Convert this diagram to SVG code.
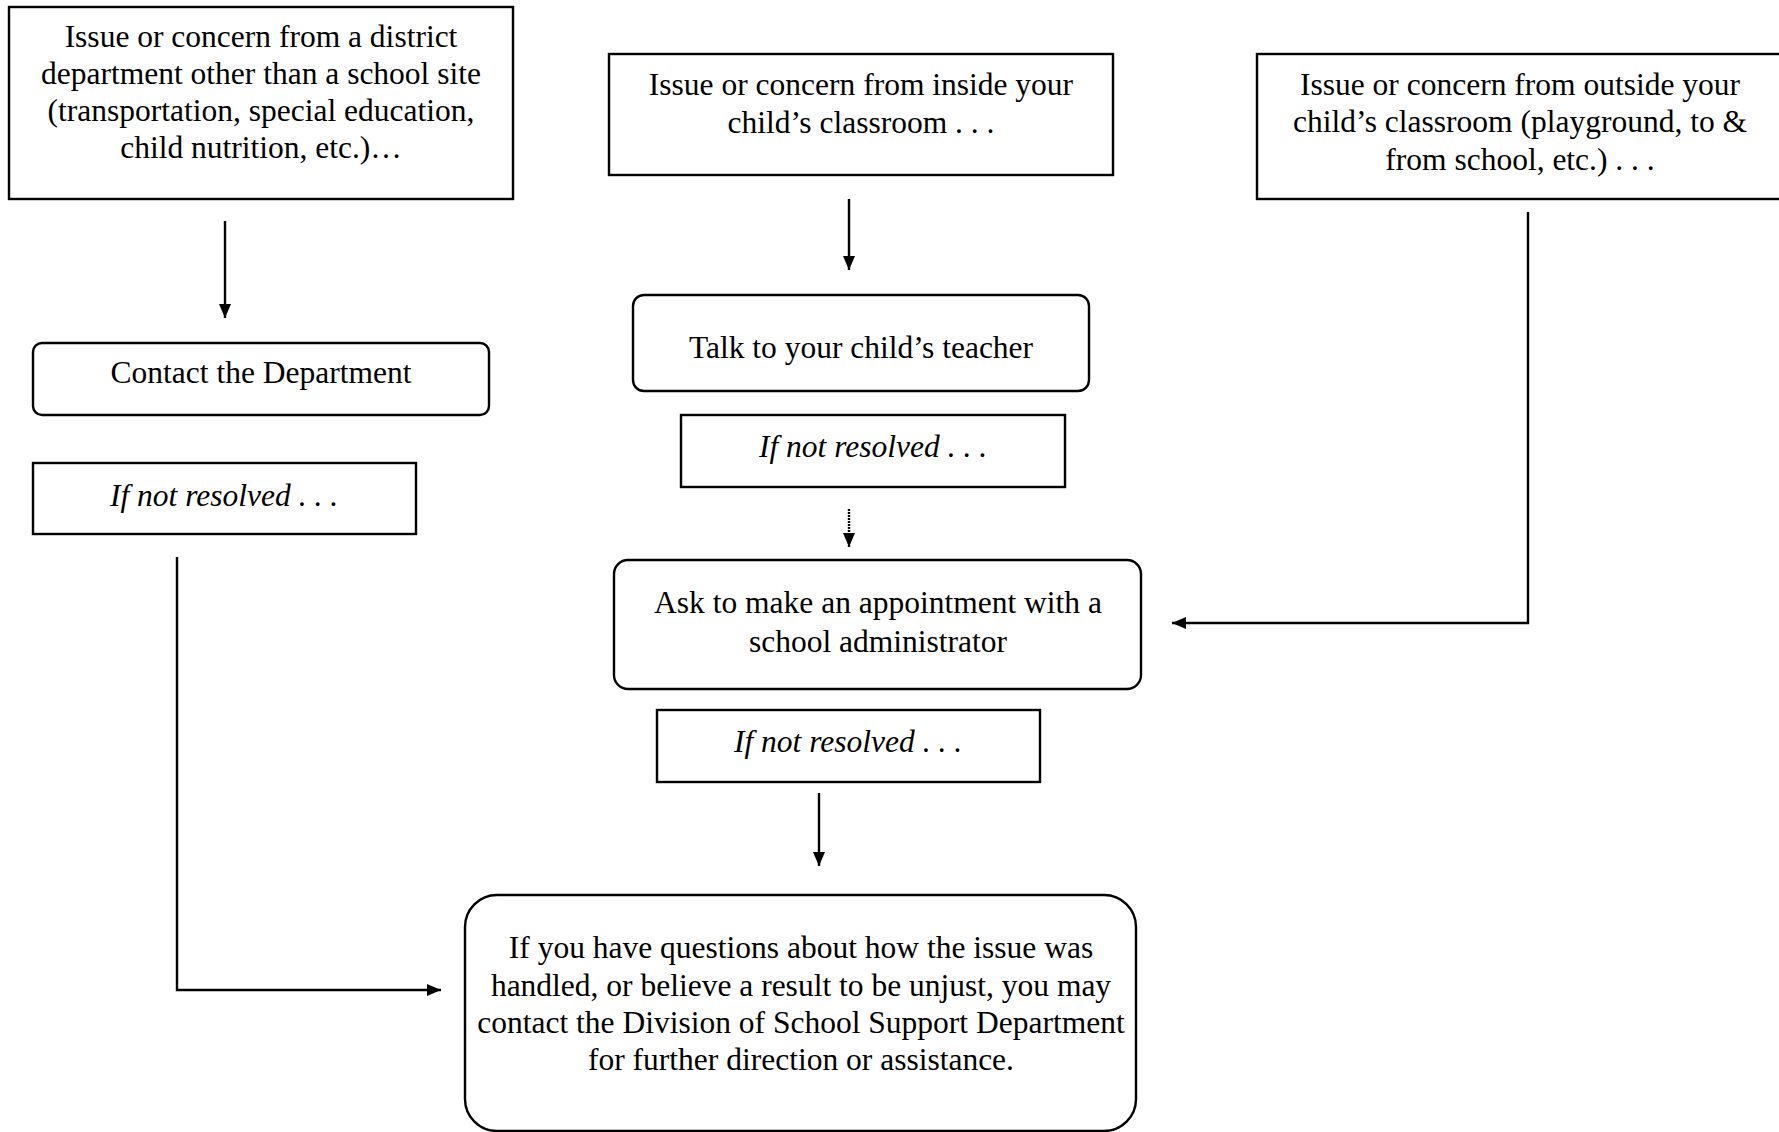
<svg xmlns="http://www.w3.org/2000/svg" width="1779" height="1132" viewBox="0 0 1779 1132">
<style>
.box{fill:#fff;stroke:#000;stroke-width:2.4}
.t{font-family:"Liberation Serif","Times New Roman",serif;font-size:31.5px;fill:#000;text-anchor:middle}
.i{font-style:italic}
.c{fill:none;stroke:#000;stroke-width:2.4}
</style>
<defs>
<marker id="ah" viewBox="0 0 14 12" refX="14" refY="6" markerWidth="14" markerHeight="12" markerUnits="userSpaceOnUse" orient="auto">
<path d="M0,0 L14,6 L0,12 z" fill="#000"/>
</marker>
</defs>
<rect width="1779" height="1132" fill="#fff"/>
<g id="connectors">
<line class="c" x1="225" y1="221" x2="225" y2="318" marker-end="url(#ah)"/>
<line class="c" x1="849" y1="199" x2="849" y2="270" marker-end="url(#ah)"/>
<line class="c" x1="849" y1="509" x2="849" y2="547" stroke-dasharray="2,1" marker-end="url(#ah)"/>
<line class="c" x1="819" y1="793" x2="819" y2="866" marker-end="url(#ah)"/>
<polyline class="c" points="1528,212 1528,623 1172,623" marker-end="url(#ah)"/>
<polyline class="c" points="177,557 177,990 441,990" marker-end="url(#ah)"/>
</g>
<g id="n1">
<rect class="box" x="9" y="7" width="504" height="192"/>
<text class="t" x="261" y="47">Issue or concern from a district</text>
<text class="t" x="261" y="84">department other than a school site</text>
<text class="t" x="261" y="121">(transportation, special education,</text>
<text class="t" x="261" y="158">child nutrition, etc.)…</text>
</g>
<g id="n2">
<rect class="box" x="609" y="54" width="504" height="121"/>
<text class="t" x="861" y="95">Issue or concern from inside your</text>
<text class="t" x="861" y="133">child’s classroom . . .</text>
</g>
<g id="n3">
<rect class="box" x="1257" y="54" width="526" height="145"/>
<text class="t" x="1520" y="95">Issue or concern from outside your</text>
<text class="t" x="1520" y="132">child’s classroom (playground, to &amp;</text>
<text class="t" x="1520" y="170">from school, etc.) . . .</text>
</g>
<g id="n4">
<rect class="box" x="33" y="343" width="456" height="72" rx="9"/>
<text class="t" x="261" y="383">Contact the Department</text>
</g>
<g id="n5">
<rect class="box" x="33" y="463" width="383" height="71"/>
<text class="t i" x="224" y="506">If not resolved . . .</text>
</g>
<g id="n6">
<rect class="box" x="633" y="295" width="456" height="96" rx="11"/>
<text class="t" x="861" y="358">Talk to your child’s teacher</text>
</g>
<g id="n7">
<rect class="box" x="681" y="415" width="384" height="72"/>
<text class="t i" x="873" y="457">If not resolved . . .</text>
</g>
<g id="n8">
<rect class="box" x="614" y="560" width="527" height="129" rx="14"/>
<text class="t" x="878" y="613">Ask to make an appointment with a</text>
<text class="t" x="878" y="652">school administrator</text>
</g>
<g id="n9">
<rect class="box" x="657" y="710" width="383" height="72"/>
<text class="t i" x="848" y="752">If not resolved . . .</text>
</g>
<g id="n10">
<rect class="box" x="465" y="895" width="671" height="236" rx="32"/>
<text class="t" x="801" y="958">If you have questions about how the issue was</text>
<text class="t" x="801" y="996">handled, or believe a result to be unjust, you may</text>
<text class="t" x="801" y="1033">contact the Division of School Support Department</text>
<text class="t" x="801" y="1070">for further direction or assistance.</text>
</g>
</svg>
